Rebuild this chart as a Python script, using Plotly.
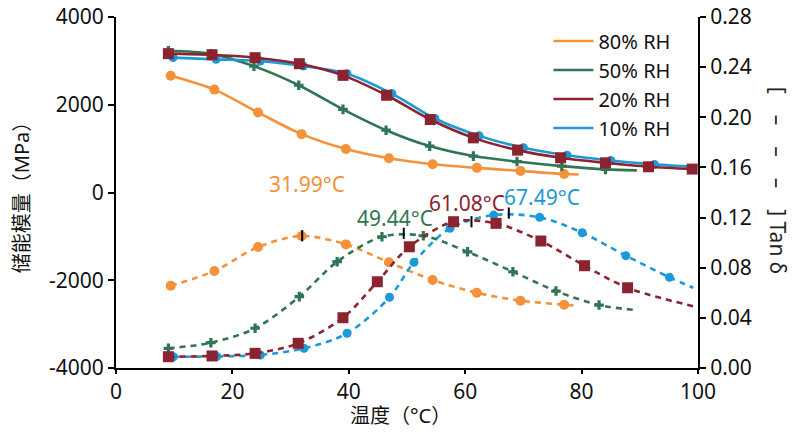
import plotly.graph_objects as go

# ---------------- data ----------------
series_names = ["80% RH", "50% RH", "20% RH", "10% RH"]
colors = ["#F3923A", "#2F7556", "#8C2331", "#1B9AD6"]
symbols = ["circle", "cross", "square", "circle"]
msizes = [10, 8, 11, 9]

# storage modulus (MPa), marker points
T_mod_80 = [9.4, 16.9, 24.4, 31.9, 39.5, 46.9, 54.4, 62.0, 69.5, 77.0]
E_80 = [2660, 2345, 1825, 1330, 990, 780, 645, 562, 492, 420]
T_mod_50 = [9.0, 16.3, 23.7, 31.4, 39.0, 46.4, 53.9, 61.4, 68.9, 76.6, 84.1]
E_50 = [3230, 3160, 2880, 2445, 1895, 1420, 1057, 830, 705, 602, 527]
T_mod_20 = [9.0, 16.5, 23.9, 31.5, 39.0, 46.5, 54.0, 61.4, 69.0, 76.4, 84.1, 91.5, 99.0]
E_20 = [3165, 3140, 3073, 2936, 2670, 2216, 1663, 1245, 966, 791, 677, 586, 534]
T_mod_10 = [9.8, 17.2, 24.8, 32.2, 39.7, 47.4, 54.8, 62.4, 70.0, 77.5, 85.0, 92.5]
E_10 = [3075, 3035, 2995, 2882, 2709, 2255, 1686, 1291, 1020, 850, 730, 640]
# where the solid curves run on past the last marker
T_mod_end = [79.5, 89.5, None, 99.5]
E_end = [410, 505, None, 580]

# tan delta, marker points
T_tan_80 = [9.4, 16.9, 24.4, 31.9, 39.5, 46.9, 54.4, 62.0, 69.5, 77.0]
tan_80 = [0.0656, 0.0774, 0.0965, 0.1053, 0.0986, 0.0843, 0.0702, 0.0600, 0.0537, 0.0505]
T_tan_50 = [9.0, 16.3, 23.9, 31.5, 38.0, 45.7, 52.8, 60.4, 68.2, 75.6, 83.0]
tan_50 = [0.0157, 0.0202, 0.0317, 0.0569, 0.0848, 0.1047, 0.1055, 0.0927, 0.0768, 0.0614, 0.0502]
T_tan_20 = [9.0, 16.5, 23.9, 31.3, 39.0, 44.9, 50.4, 58.0, 65.3, 73.0, 80.5, 87.9]
tan_20 = [0.0090, 0.0096, 0.0117, 0.0197, 0.0401, 0.0688, 0.0967, 0.1167, 0.1154, 0.1013, 0.0816, 0.0640]
T_tan_10 = [9.85, 17.3, 24.8, 32.3, 39.7, 47.0, 51.2, 57.4, 64.9, 72.8, 80.1, 87.6, 95.1]
tan_10 = [0.0090, 0.0092, 0.0104, 0.0157, 0.0277, 0.0564, 0.0843, 0.1114, 0.1220, 0.1202, 0.1079, 0.0896, 0.0723]
T_tan_end = [79.5, 89.4, 99.5, 99.2]
tan_end = [0.0494, 0.0462, 0.0489, 0.0640]

# tan delta peaks
peak_T = [31.99, 49.44, 61.08, 67.49]
peak_tan = [0.1055, 0.1074, 0.1167, 0.1236]
peak_labels = ["31.99°C", "49.44°C", "61.08°C", "67.49°C"]

# axes
x_ticks = [0, 20, 40, 60, 80, 100]
y_ticks = [-4000, -2000, 0, 2000, 4000]
y_ticklabels = ["-4000", "-2000", "0", "2000", "4000"]
y2_ticks = [0.00, 0.04, 0.08, 0.12, 0.16, 0.20, 0.24, 0.28]
y2_ticklabels = ["0.00", "0.04", "0.08", "0.12", "0.16", "0.20", "0.24", "0.28"]

# ---------------- figure ----------------
FONT = "Noto Sans, Noto Sans CJK SC, sans-serif"
mod_T = [T_mod_80, T_mod_50, T_mod_20, T_mod_10]
mod_E = [E_80, E_50, E_20, E_10]
tan_T = [T_tan_80, T_tan_50, T_tan_20, T_tan_10]
tan_V = [tan_80, tan_50, tan_20, tan_10]

fig = go.Figure()

draw_order = [0, 1, 3, 2]
# tan delta (dashed) on y2
for i in draw_order:
    xs = list(tan_T[i]) + ([T_tan_end[i]] if T_tan_end[i] is not None else [])
    ys = list(tan_V[i]) + ([tan_end[i]] if tan_end[i] is not None else [])
    fig.add_trace(go.Scatter(x=xs, y=ys, yaxis="y2", mode="lines",
                             line=dict(color=colors[i], width=2.6, dash="6px,5px",
                                       shape="spline", smoothing=0.9),
                             showlegend=False, hoverinfo="skip"))
    fig.add_trace(go.Scatter(x=tan_T[i], y=tan_V[i], yaxis="y2", mode="markers",
                             marker=dict(color=colors[i], symbol=symbols[i], size=msizes[i],
                                         line=dict(width=0)),
                             showlegend=False))

# storage modulus (solid) on y
for i in draw_order:
    xs = list(mod_T[i]) + ([T_mod_end[i]] if T_mod_end[i] is not None else [])
    ys = list(mod_E[i]) + ([E_end[i]] if E_end[i] is not None else [])
    fig.add_trace(go.Scatter(x=xs, y=ys, mode="lines",
                             line=dict(color=colors[i], width=2.6, shape="spline", smoothing=0.9),
                             showlegend=False, hoverinfo="skip"))
    fig.add_trace(go.Scatter(x=mod_T[i], y=mod_E[i], mode="markers",
                             marker=dict(color=colors[i], symbol=symbols[i], size=msizes[i],
                                         line=dict(width=0)),
                             showlegend=False))

# peak tick marks
fig.add_trace(go.Scatter(x=peak_T, y=peak_tan, yaxis="y2", mode="markers",
                         marker=dict(symbol="line-ns", size=8, line=dict(color="black", width=2)),
                         showlegend=False))

# legend entries (lines only)
for i in range(4):
    fig.add_trace(go.Scatter(x=[None], y=[None], mode="lines", name=series_names[i],
                             line=dict(color=colors[i], width=2.6)))

# peak labels
label_pos = [(32.8, 0.1467), (48.0, 0.1196), (60.3, 0.1313), (73.2, 0.1366)]
for k in range(4):
    fig.add_annotation(x=label_pos[k][0], y=label_pos[k][1], xref="x", yref="y2",
                       xanchor="center", yanchor="middle",
                       text=peak_labels[k], showarrow=False,
                       font=dict(family=FONT, size=21, color=colors[k]))

# right axis title
fig.add_annotation(x=1.1375, y=0.536, xref="paper", yref="paper",
                   xanchor="center", yanchor="middle",
                   text="[\u2003–\u2003–\u2003–\u2003] Tan δ", textangle=90, showarrow=False,
                   font=dict(family=FONT, size=21, color="#222"))

# x axis title
fig.add_annotation(x=0.488, y=-0.136, xref="paper", yref="paper",
                   xanchor="center", yanchor="middle",
                   text="温度（°C）", showarrow=False,
                   font=dict(family=FONT, size=20, color="#111"))

axis_common = dict(showline=True, linecolor="black", linewidth=2, ticks="outside",
                   tickwidth=2, tickcolor="black", showgrid=False, zeroline=False,
                   automargin=False, ticklabeloverflow="allow",
                   tickfont=dict(family=FONT, size=21, color="#111"))

fig.update_layout(
    width=812, height=436,
    margin=dict(l=108, r=122, t=9, b=76, autoexpand=False),
    plot_bgcolor="white", paper_bgcolor="white",
    font=dict(family=FONT, size=20, color="#111"),
    xaxis=dict(range=[0, 100], tickvals=x_ticks, ticklen=4, **axis_common),
    yaxis=dict(range=[-4000, 4000], tickvals=y_ticks, ticktext=y_ticklabels, ticklen=6,
               title=dict(text="储能模量（MPa）", font=dict(family=FONT, size=20)),
               **axis_common),
    yaxis2=dict(range=[0, 0.28], tickvals=y2_ticks, ticktext=y2_ticklabels, ticklen=6,
                overlaying="y", side="right", **axis_common),
    legend=dict(x=0.743, y=0.987, xanchor="left", yanchor="top", bgcolor="rgba(0,0,0,0)",
                font=dict(family=FONT, size=20, color="#111"), itemwidth=40,
                tracegroupgap=0),
    showlegend=True,
)

fig.write_html("out.html")
